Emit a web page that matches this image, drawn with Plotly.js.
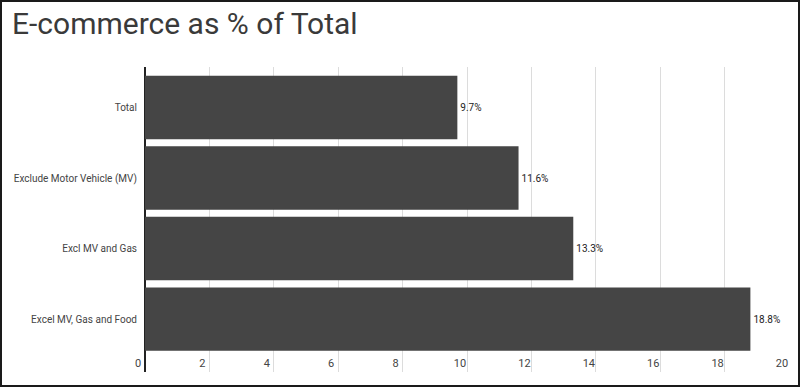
<!DOCTYPE html>
<html>
<head>
<meta charset="utf-8">
<script src="https://cdn.plot.ly/plotly-3.0.1.min.js"></script>
<style>
html,body{margin:0;padding:0;background:#fff;}
#wrap{position:relative;width:800px;height:387px;}
#chart{width:800px;height:387px;}
#frame{position:absolute;left:0;top:0;width:800px;height:387px;box-sizing:border-box;border:2px solid #1a1a1a;pointer-events:none;}
</style>
</head>
<body>
<div id="wrap"><div id="chart"></div><div id="frame"></div></div>
<script>
const categories = ["Total", "Exclude Motor Vehicle (MV)", "Excl MV and Gas", "Excel MV, Gas and Food"];
const values = [9.7, 11.6, 13.3, 18.8];
const valueLabels = ["9.7%", "11.6%", "13.3%", "18.8%"];
const xTicks = [0, 2, 4, 6, 8, 10, 12, 14, 16, 18, 20];

const trace = {
  type: "bar",
  orientation: "h",
  y: categories,
  x: values,
  text: valueLabels,
  textposition: "outside",
  cliponaxis: false,
  textfont: {family: "Roboto, sans-serif", size: 10, color: "#222"},
  marker: {color: "#454545"},
  hoverinfo: "none"
};

const layout = {
  width: 800, height: 387,
  margin: {l: 144.5, r: 10, t: 67, b: 15},
  paper_bgcolor: "#fff", plot_bgcolor: "#fff",
  showlegend: false,
  bargap: 0.1,
  title: {
    text: "E-commerce as % of Total",
    x: 0.015, xref: "container", xanchor: "left",
    y: 0.94, yref: "container", yanchor: "middle",
    font: {family: "Roboto, sans-serif", size: 30, color: "#3a3a3a"}
  },
  xaxis: {
    range: [0, 20.03],
    tickvals: xTicks,
    ticktext: xTicks.map(String),
    showgrid: true, gridcolor: "#dcdcdc", gridwidth: 1,
    zeroline: true, zerolinecolor: "#222", zerolinewidth: 1.5,
    showline: false,
    ticks: "",
    ticklabelposition: "inside",
    ticklabeloverflow: "allow",
    ticklabelshift: -7,
    tickfont: {family: "Roboto, sans-serif", size: 11, color: "#444"}
  },
  yaxis: {
    type: "category",
    categoryorder: "array",
    categoryarray: categories,
    range: [3.75, -0.575],
    showgrid: false, zeroline: false, showline: false,
    ticks: "",
    ticklabelstandoff: 7,
    tickfont: {family: "Roboto, sans-serif", size: 10, color: "#444"}
  }
};

Plotly.newPlot("chart", [trace], layout, {displayModeBar: false, staticPlot: true});
</script>
</body>
</html>
